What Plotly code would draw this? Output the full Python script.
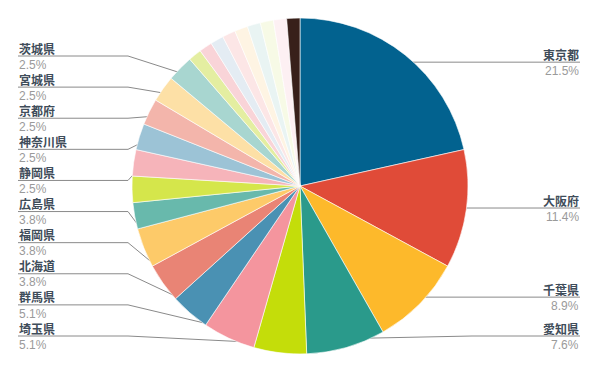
import math
import plotly.graph_objects as go

# ---- data ----
prefectures = ["東京都", "大阪府", "千葉県", "愛知県", "埼玉県", "群馬県", "北海道", "福岡県",
               "広島県", "その他A", "その他B", "静岡県", "神奈川県", "京都府", "宮城県", "茨城県",
               "その他C", "その他D", "その他E", "その他F", "その他G", "その他H", "その他I",
               "その他J", "その他K"]
counts = [17, 9, 7, 6, 4, 4, 3, 3, 3, 2, 2, 2, 2, 2, 2, 2, 1, 1, 1, 1, 1, 1, 1, 1, 1]
labeled = ["東京都", "大阪府", "千葉県", "愛知県", "埼玉県", "群馬県", "北海道", "福岡県",
           "広島県", "静岡県", "神奈川県", "京都府", "宮城県", "茨城県"]
colors = ["#02628f", "#e04b38", "#fdb92b", "#2a9a8b", "#c4dd0a", "#f4959e", "#4a91b3",
          "#e98475", "#fdca69", "#68b9ac", "#d5e64b", "#f6b4ba", "#9cc3d6", "#f3b5ab",
          "#fde0a6", "#a8d6d0", "#e4eea1", "#f9d4d8", "#e4ecf3", "#fce6e6", "#fef4e3",
          "#e9f4f3", "#f7fae6", "#fdf0f3", "#38201a"]

W, H = 600, 371
CX, CY, R = 300, 186, 168

total = sum(counts)
fig = go.Figure()
fig.add_trace(go.Pie(
    labels=prefectures, values=counts, sort=False, direction="clockwise", rotation=0,
    marker=dict(colors=colors, line=dict(color="#ffffff", width=0.6)),
    textinfo="none", hoverinfo="label+percent", showlegend=False,
    domain=dict(x=[(CX - R) / W, (CX + R) / W], y=[(H - CY - R) / H, (H - CY + R) / H]),
))

# ---- leader lines & labels ----
cum = 0
slices = []
for name, c in zip(prefectures, counts):
    mid = (cum + c / 2) / total * 2 * math.pi
    cum += c
    if name in labeled:
        dx = CX + 0.945 * R * math.sin(mid)
        dy = CY - 0.945 * R * math.cos(mid)
        slices.append((name, c, dx, dy, math.sin(mid) >= 0))

right = [s for s in slices if s[4]]
left = [s for s in slices if not s[4]]
left.sort(key=lambda s: s[3])
top_y, bot_y = 56, 336
step = (bot_y - top_y) / (len(left) - 1)

lx, ly, px, py = [], [], [], []
ann = []
name_color = "#3f4d5a"
pct_color = "#9a9a9a"

def add_label(x, y, name, pct, anchor):
    ann.append(dict(x=x, y=y - 8.5, xref="x", yref="y", text="<b>%s</b>" % name, showarrow=False,
                    xanchor=anchor, yanchor="middle", height=14, borderpad=0,
                    font=dict(family="Noto Sans CJK JP", size=12, color=name_color)))
    ann.append(dict(x=x, y=y + 8.7, xref="x", yref="y", text=pct, showarrow=False,
                    xanchor=anchor, yanchor="middle", height=12, borderpad=0,
                    font=dict(family="Liberation Sans, Arial", size=12, color=pct_color)))

for name, c, dx, dy, _ in right:
    y = min(dy, bot_y)
    lx += [dx, 472, 580, None]
    ly += [dy, y, y, None]
    px.append(dx); py.append(dy)
    add_label(580, y, name, "%.1f%%" % (c / total * 100), "right")

for i, (name, c, dx, dy, _) in enumerate(left):
    y = top_y + i * step
    lx += [dx, 128, 18, None]
    ly += [dy, y, y, None]
    px.append(dx); py.append(dy)
    add_label(18, y, name, "%.1f%%" % (c / total * 100), "left")

fig.add_trace(go.Scatter(x=lx, y=ly, mode="lines", line=dict(color="#8a8a8a", width=1),
                         hoverinfo="skip", showlegend=False))
fig.add_trace(go.Scatter(x=px, y=py, mode="markers", marker=dict(color="#9a9a9a", size=5),
                         hoverinfo="skip", showlegend=False))

fig.update_layout(
    width=W, height=H, margin=dict(l=0, r=0, t=0, b=0),
    paper_bgcolor="#ffffff", plot_bgcolor="rgba(0,0,0,0)",
    xaxis=dict(range=[0, W], visible=False, fixedrange=True),
    yaxis=dict(range=[H, 0], visible=False, fixedrange=True),
    annotations=ann,
)
fig.write_html("out.html")
